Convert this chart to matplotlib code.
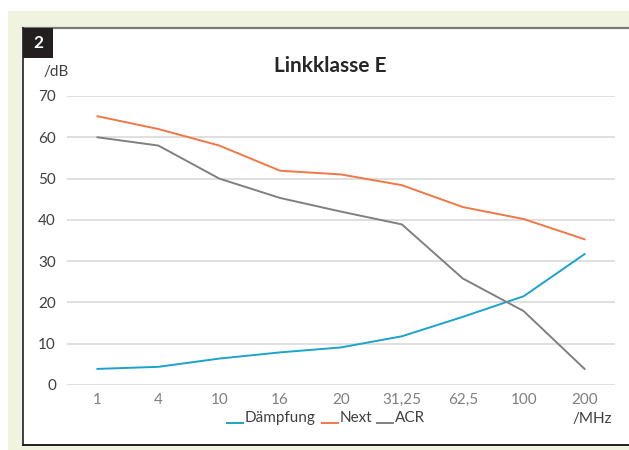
import matplotlib.pyplot as plt
from matplotlib.patches import Rectangle
from matplotlib.lines import Line2D

plt.rcParams['font.family'] = ['Lato', 'DejaVu Sans']

# Frequenzen (Kategorien) und Messwerte in dB
frequencies = ['1', '4', '10', '16', '20', '31,25', '62,5', '100', '200']
daempfung = [3.9, 4.4, 6.4, 7.9, 9.1, 11.8, 16.5, 21.5, 31.7]
next_db = [65.1, 62.0, 58.0, 51.9, 51.0, 48.4, 43.1, 40.2, 35.3]
acr = [60.0, 58.0, 50.0, 45.3, 42.0, 38.9, 25.8, 17.9, 3.9]

series_names = ['Dämpfung', 'Next', 'ACR']
series_colors = ['#1ba3cb', '#f07846', '#808080']

W, H = 629, 450
fig = plt.figure(figsize=(W / 100, H / 100), dpi=100)
fig.patch.set_facecolor('white')

def fx(px):
    return px / W

def fy(py):
    return 1 - py / H

# Hintergrund und Rahmen
fig.patches.append(Rectangle((fx(8), 0), fx(629 - 8), (450 - 11) / H,
                             transform=fig.transFigure, facecolor='#eff3e0', edgecolor='none', zorder=0))
fig.patches.append(Rectangle((fx(23), fy(445)), fx(629 - 23), (445 - 28) / H,
                             transform=fig.transFigure, facecolor='white', edgecolor='none', zorder=1))
fig.add_artist(Line2D([fx(23), 1], [fy(28), fy(28)], color='#7a7a7a', lw=1.6, zorder=2))
fig.add_artist(Line2D([fx(23), fx(23)], [fy(28), fy(445)], color='#231f20', lw=1.2, zorder=2))
fig.add_artist(Line2D([fx(23), 1], [fy(445), fy(445)], color='#231f20', lw=1.4, zorder=2))
fig.patches.append(Rectangle((fx(23), fy(58)), fx(30), 30 / H, transform=fig.transFigure,
                             facecolor='#231f20', edgecolor='none', zorder=3))
fig.text(fx(38), fy(43.5), '2', color='white', fontsize=12.5, fontweight='bold',
         ha='center', va='center', zorder=4)

ax = fig.add_axes([fx(67), fy(385), fx(615 - 67), (385 - 96) / H])
ax.set_zorder(5)
ax.set_facecolor('none')
x = list(range(len(frequencies)))
for vals, name, col in zip([daempfung, next_db, acr], series_names, series_colors):
    ax.plot(x, vals, color=col, lw=1.4, label=name)

ax.set_xlim(-0.5, len(frequencies) - 0.5)
ax.set_ylim(0, 70)
ax.set_yticks(range(0, 71, 10))
ax.set_xticks(x)
ax.set_xticklabels(frequencies)
ax.yaxis.grid(True, color='#d9d9d9', lw=1.2)
ax.set_axisbelow(True)
for s in ax.spines.values():
    s.set_visible(False)
ax.tick_params(axis='y', length=0, pad=8, labelsize=11, labelcolor='#404040')
ax.tick_params(axis='x', length=0, pad=6, labelsize=11, labelcolor='#7f7f7f')

fig.text(0.525, fy(66), 'Linkklasse E', fontsize=15, fontweight='bold',
         color='#262626', ha='center', va='center', zorder=6)
fig.text(fx(43), fy(72), '/dB', fontsize=11, color='#404040', ha='left', va='center', zorder=6)
fig.text(fx(572), fy(419), '/MHz', fontsize=11, color='#404040', ha='left', va='center', zorder=6)

# Legende: Linie auf Höhe der Grundlinie, Text rechts daneben
legend_x = [227, 322, 377]
for lx, name, col in zip(legend_x, series_names, series_colors):
    fig.add_artist(Line2D([fx(lx), fx(lx + 16)], [fy(423), fy(423)], color=col, lw=1.4, zorder=6))
    fig.text(fx(lx + 18), fy(418), name, fontsize=11, color='#404040',
             ha='left', va='center', zorder=6)

fig.savefig('out.png', dpi=100)
